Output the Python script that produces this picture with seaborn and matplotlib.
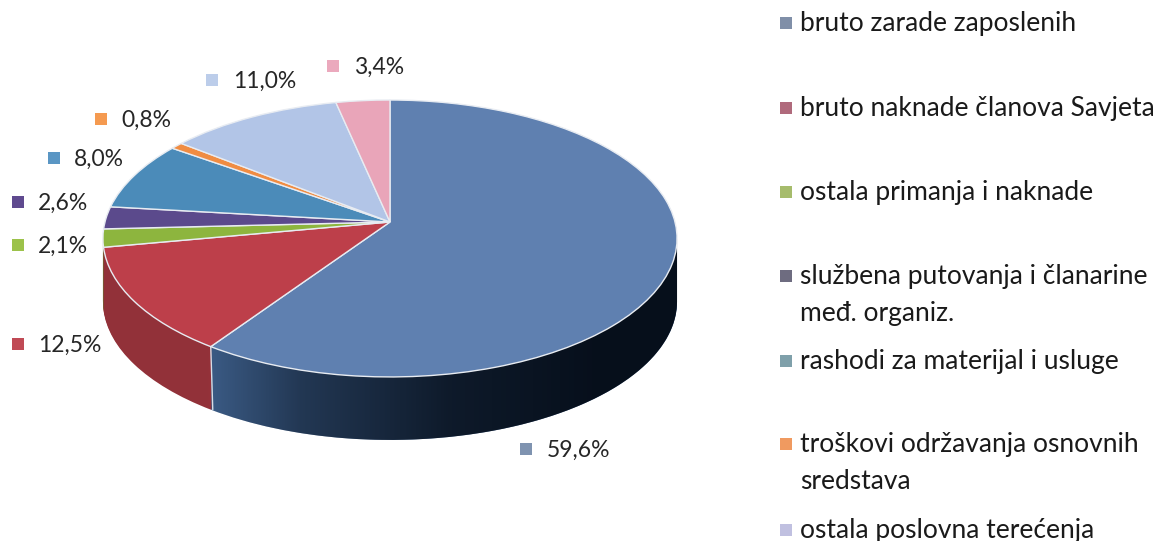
import numpy as np
import matplotlib
matplotlib.use('Agg')
import matplotlib.pyplot as plt
import seaborn as sns
from matplotlib.path import Path
from matplotlib.transforms import Transform

shares = [59.6, 12.5, 2.1, 2.6, 8.0, 0.8, 11.0, 3.4]
legend_labels = ['bruto zarade zaposlenih', 'bruto naknade članova Savjeta',
                 'ostala primanja i naknade', 'službena putovanja i članarine\nmeđ. organiz.',
                 'rashodi za materijal i usluge', 'troškovi održavanja osnovnih\nsredstava',
                 'ostala poslovna terećenja']

top_colors = ['#5f80b0', '#bd3f4a', '#8db53e', '#5b4a8c', '#4b8bb9', '#f08c42', '#b2c5e7', '#e9a5b9']
side_colors = ['#40628f', '#a5363e', '#6f8f30', '#453668', '#356a8f', '#c06a30', '#8a9cc0', '#c08095']
label_colors = ['#7f93b0', '#c04a55', '#9cc24a', '#5f4a8f', '#5a96c4', '#f59a50', '#bccdea', '#eba9bd']
legend_colors = ['#808fa8', '#b06a7c', '#a6bc6c', '#6e6c80', '#7fa0aa', '#f09a60', '#c0c0e0']

# label layout in image pixels: marker x, marker y, text x
label_pos = [(526, 449, 547), (18, 344, 38), (18, 245, 38), (18, 202, 38),
             (54, 158, 74), (101, 119, 121), (212, 80, 233), (333, 66, 354)]
legend_y = [23, 108, 192, 276, 361, 444, 530]
W, H = 1156, 541
DEPTH = 63


class Tilt(Transform):
    # puts the flat unit pie on a tilted plane, output in image pixels
    input_dims = output_dims = 2

    def __init__(self, drop=0):
        super().__init__()
        self.drop = drop

    def transform_non_affine(self, values):
        values = np.asarray(values)
        s = 1 / (1 + 0.119 * values[:, 1])
        return np.column_stack([390 + 285 * values[:, 0] * s,
                                222 + self.drop - 136.5 * values[:, 1] * s])


sns.set_theme(style='white')
plt.rcParams['font.family'] = ['Lato', 'DejaVu Sans']

fig, ax = plt.subplots(figsize=(W / 100, H / 100), dpi=100)
fig.subplots_adjust(0, 0, 1, 1)

# side of the disc, stacked pies from the bottom up
for d in range(DEPTH, 0, -1):
    wedges, _ = ax.pie(shares, colors=side_colors, startangle=90, counterclock=False, radius=1)
    for w in wedges:
        w.set_transform(Tilt(d) + ax.transData)
        w.set_zorder(1)
        w.set_linewidth(0)

# dark shading across the side
t = np.linspace(0, 2 * np.pi, 721)
rim = Tilt().transform_non_affine(np.column_stack([np.sin(t), np.cos(t)]))
i_right, i_left = rim[:, 0].argmax(), rim[:, 0].argmin()
band = rim[i_right:i_left + 1] + [0, DEPTH]
band = np.vstack([band, rim[i_left], rim[i_right]])
xs = np.arange(W)
shade = np.zeros((1, W, 4))
shade[..., :3] = matplotlib.colors.to_rgb('#050d18')
shade[0, :, 3] = np.interp(xs, [100, 205, 212, 300, 450, 600], [0.12, 0.12, 0.1, 0.5, 0.85, 0.98])
im = ax.imshow(shade, extent=(0, W, H, 0), aspect='auto', zorder=2)
im.set_clip_path(Path(band), ax.transData)

# seam where blue and red meet on the side
seam = np.radians(3.6 * shares[0])
sx, sy = Tilt().transform_non_affine(np.array([[np.sin(seam), np.cos(seam)]]))[0]
ax.plot([sx, sx + 2], [sy, sy + DEPTH], color='#d8dde6', lw=1, zorder=3)

# top face
wedges, _ = ax.pie(shares, colors=top_colors, startangle=90, counterclock=False, radius=1,
                   wedgeprops={'edgecolor': '#e8ecf2', 'linewidth': 1})
for w in wedges:
    w.set_transform(Tilt() + ax.transData)
    w.set_zorder(4)

# percent labels
for v, (mx, my, tx) in zip(shares, label_pos):
    ax.text(tx, my + 1, f'{v:.1f}'.replace('.', ',') + '%', fontsize=16.5, color='#262626',
            ha='left', va='center', zorder=5)
sns.scatterplot(x=[p[0] for p in label_pos], y=[p[1] for p in label_pos],
                hue=list(range(len(shares))), palette=label_colors, marker='s', s=68,
                linewidth=0, legend=False, ax=ax, zorder=5)

# legend column, the last entry runs off the image in the source
for lab, y in zip(legend_labels, legend_y):
    for n, line in enumerate(lab.split('\n')):
        ax.text(800, y + 8 + n * 37, line, fontsize=19, color='#1a1a1a', ha='left',
                va='baseline', zorder=5)
sns.scatterplot(x=[786] * len(legend_y), y=legend_y, hue=list(range(len(legend_y))),
                palette=legend_colors, marker='s', s=85, linewidth=0, legend=False, ax=ax, zorder=5)

ax.set_aspect('auto')
ax.set_xlim(0, W)
ax.set_ylim(H, 0)
ax.axis('off')
fig.savefig('out.png', dpi=100)
